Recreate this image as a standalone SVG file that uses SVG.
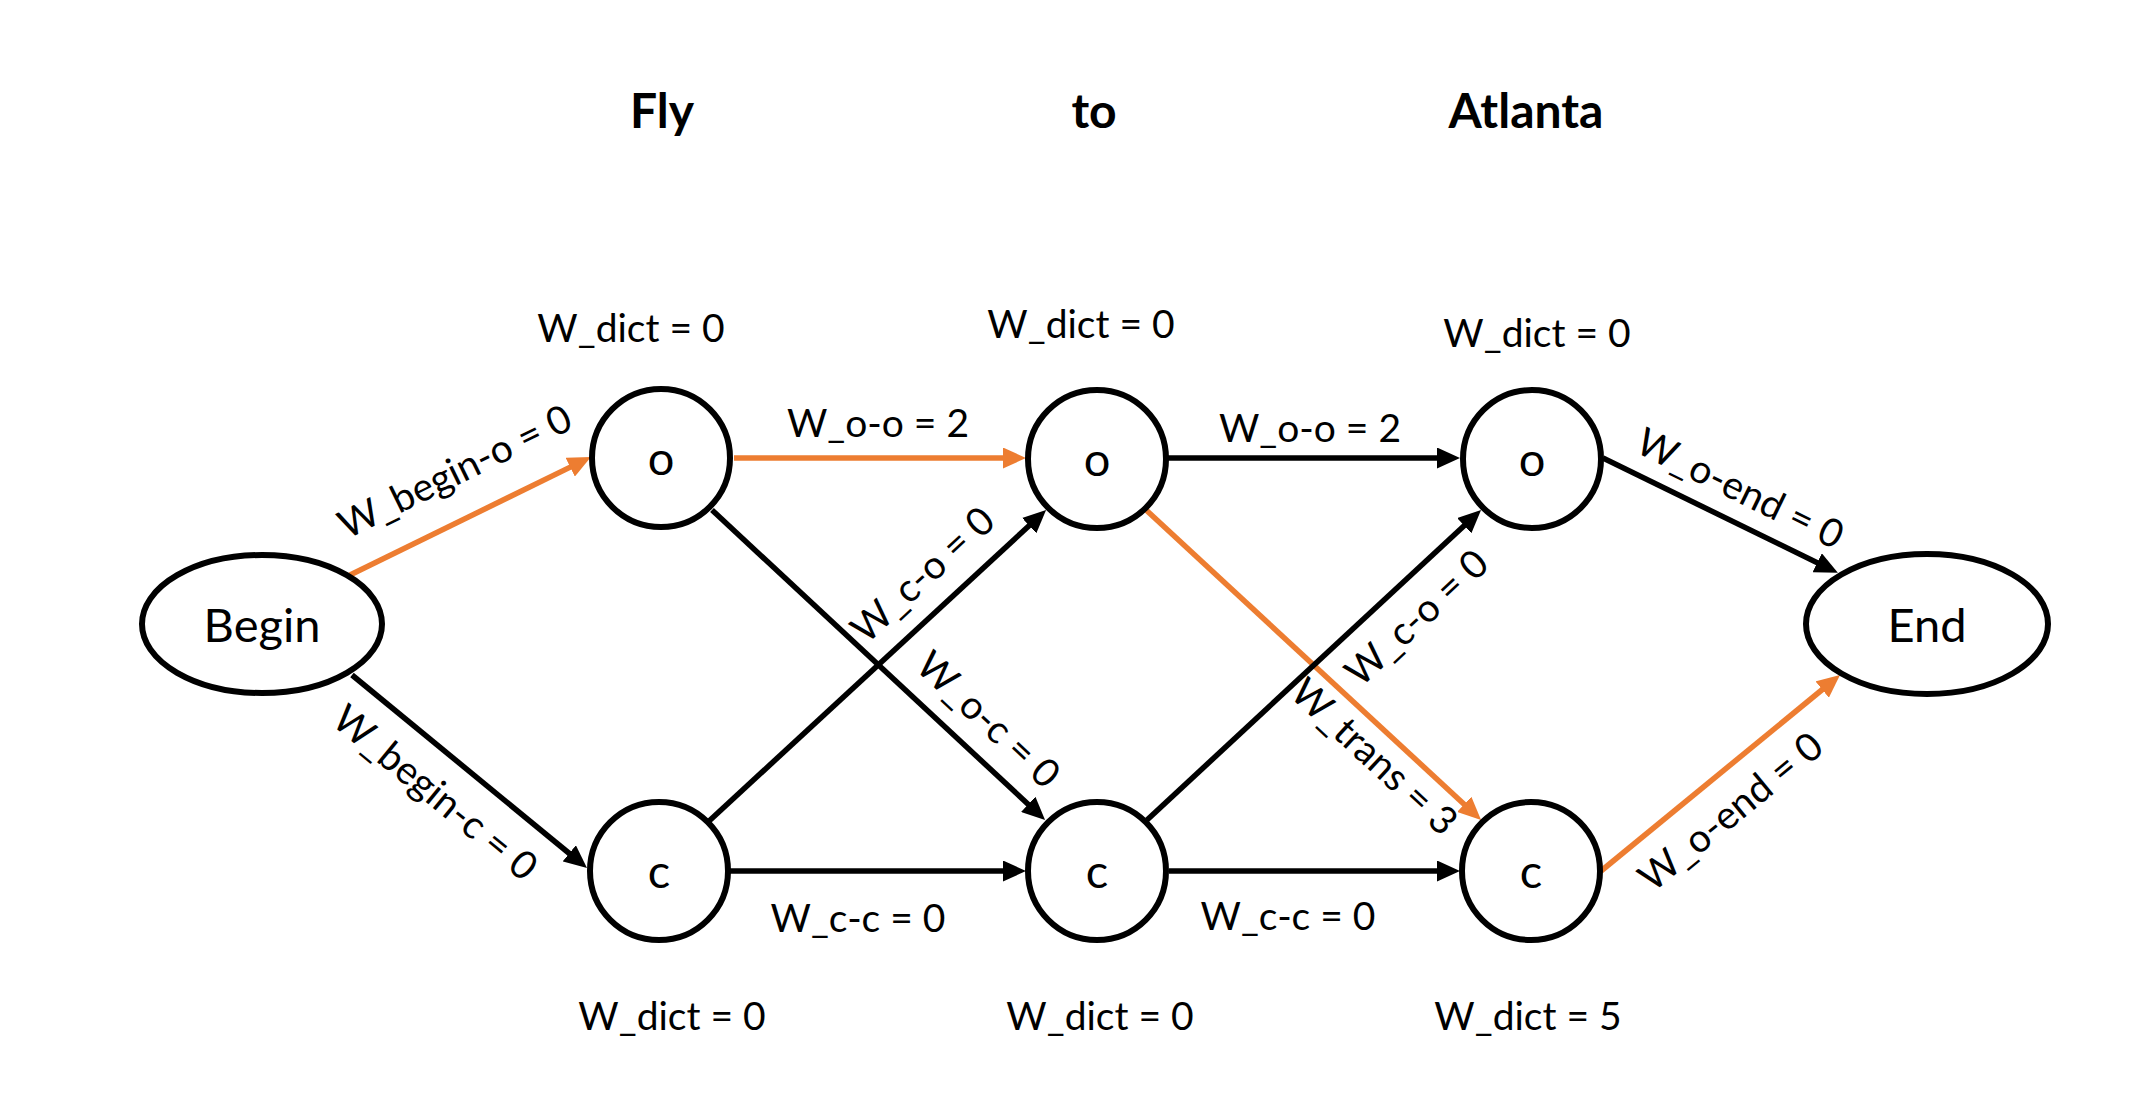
<svg xmlns="http://www.w3.org/2000/svg" width="2150" height="1100" viewBox="0 0 2150 1100">
<style>
.node{fill:#fff;stroke:#000;stroke-width:6}
.nt{font-family:Lato,"Liberation Sans",sans-serif;font-size:47px;text-anchor:middle;fill:#000}
.lt{font-family:Lato,"Liberation Sans",sans-serif;font-size:39px;text-anchor:middle;fill:#000}
.tt{font-family:Lato,"Liberation Sans",sans-serif;font-size:48px;font-weight:bold;text-anchor:middle;fill:#000}
.e{fill:none;stroke-width:5.5}
.k{stroke:#000;marker-end:url(#ak)}
.r{stroke:#ED7D31;marker-end:url(#ar)}
</style>
<defs>
<marker id="ak" markerUnits="userSpaceOnUse" markerWidth="23" markerHeight="21" viewBox="0 0 23 21" refX="12" refY="10.5" orient="auto"><path d="M0,0 L23,10.5 L0,21 z" fill="#000"/></marker>
<marker id="ar" markerUnits="userSpaceOnUse" markerWidth="23" markerHeight="21" viewBox="0 0 23 21" refX="12" refY="10.5" orient="auto"><path d="M0,0 L23,10.5 L0,21 z" fill="#ED7D31"/></marker>
</defs>
<rect width="2150" height="1100" fill="#fff"/>
<g id="titles">
<text class="tt" x="662" y="128">Fly</text>
<text class="tt" x="1094" y="128">to</text>
<text class="tt" x="1526" y="128">Atlanta</text>
</g>
<g id="connectors">
<line class="e r" x1="350" y1="575" x2="581" y2="461.9"/>
<line class="e k" x1="352" y1="675" x2="578.5" y2="861"/>
<line class="e r" x1="734" y1="458" x2="1015" y2="458"/>
<line class="e k" x1="712" y1="510" x2="1037" y2="812.5"/>
<line class="e k" x1="708" y1="822" x2="1038" y2="517.5"/>
<line class="e k" x1="730" y1="871" x2="1015" y2="871"/>
<line class="e k" x1="1168" y1="458" x2="1449" y2="458"/>
<line class="e r" x1="1145" y1="509" x2="1473" y2="812.5"/>
<line class="e k" x1="1147" y1="820" x2="1473" y2="517.5"/>
<line class="e k" x1="1169" y1="871" x2="1449" y2="871"/>
<line class="e k" x1="1603" y1="458" x2="1828" y2="568"/>
<line class="e r" x1="1601" y1="871" x2="1831.5" y2="682"/>
<text class="lt" transform="translate(455,472) rotate(-26.1)" y="13">W_begin-o = 0</text>
<text class="lt" transform="translate(435,793) rotate(39.4)" y="13">W_begin-c = 0</text>
<text class="lt" x="878" y="437">W_o-o = 2</text>
<text class="lt" transform="translate(923,575) rotate(-42.7)" y="13">W_c-o = 0</text>
<text class="lt" transform="translate(988,720) rotate(43)" y="13">W_o-c = 0</text>
<text class="lt" x="858" y="932">W_c-c = 0</text>
<text class="lt" x="1310" y="442">W_o-o = 2</text>
<text class="lt" transform="translate(1417,618) rotate(-42.9)" y="13">W_c-o = 0</text>
<text class="lt" transform="translate(1374,757) rotate(42.8)" y="13">W_trans = 3</text>
<text class="lt" x="1288" y="930">W_c-c = 0</text>
<text class="lt" transform="translate(1740,489) rotate(26.1)" y="13">W_o-end = 0</text>
<text class="lt" transform="translate(1731,812) rotate(-39.4)" y="13">W_o-end = 0</text>
</g>
<g id="begin"><ellipse class="node" cx="262" cy="624" rx="120" ry="69"/><text class="nt" x="262" y="642">Begin</text></g>
<g id="o1"><circle class="node" cx="661" cy="458" r="69"/><text class="nt" x="661" y="475">o</text><text class="lt" x="631" y="342">W_dict = 0</text></g>
<g id="c1"><circle class="node" cx="659" cy="871" r="69"/><text class="nt" x="659" y="888">c</text><text class="lt" x="672" y="1030">W_dict = 0</text></g>
<g id="o2"><circle class="node" cx="1097" cy="459" r="69"/><text class="nt" x="1097" y="476">o</text><text class="lt" x="1081" y="338">W_dict = 0</text></g>
<g id="c2"><circle class="node" cx="1097" cy="871" r="69"/><text class="nt" x="1097" y="888">c</text><text class="lt" x="1100" y="1030">W_dict = 0</text></g>
<g id="o3"><circle class="node" cx="1532" cy="459" r="69"/><text class="nt" x="1532" y="476">o</text><text class="lt" x="1537" y="347">W_dict = 0</text></g>
<g id="c3"><circle class="node" cx="1531" cy="871" r="69"/><text class="nt" x="1531" y="888">c</text><text class="lt" x="1528" y="1030">W_dict = 5</text></g>
<g id="end"><ellipse class="node" cx="1927" cy="624" rx="121" ry="70"/><text class="nt" x="1927" y="642">End</text></g>
</svg>
